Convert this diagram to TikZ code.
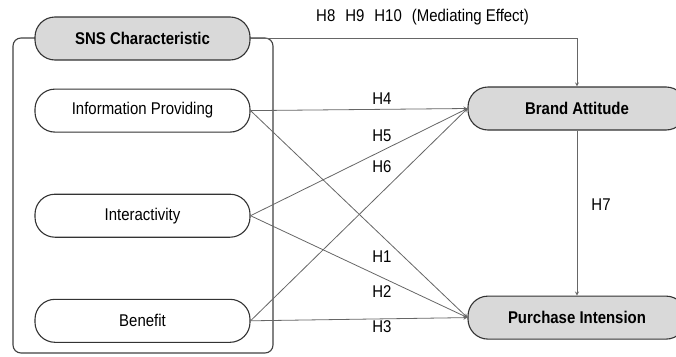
\documentclass[tikz,border=0pt]{standalone}
\usepackage{fontspec}
\setmainfont[FakeStretch=0.88]{Liberation Sans}
\usepackage{tikz}
\usetikzlibrary{positioning}
\newcommand{\diagfont}{\fontsize{17}{20}\selectfont}
\tikzstyle{factor} = [rectangle, rounded corners=20pt, minimum width=215pt, minimum height=43pt, text centered, draw=black!80, line width=1.1pt, fill=white]
\tikzstyle{latent} = [factor, fill=black!15, font=\diagfont\bfseries]
\tikzstyle{outcome} = [latent, minimum width=218pt]
\tikzstyle{frame} = [draw=black!75, line width=1.1pt, rounded corners=8pt]
\tikzstyle{hyp} = [inner sep=0pt]
\tikzstyle{arrow} = [draw=black!60, line width=0.8pt, ->, >=stealth]

\begin{document}
\begin{tikzpicture}[x=1pt, y=-1pt, font=\diagfont]
        \useasboundingbox (0,0) rectangle (676,356);
        \draw[frame] (13,38) rectangle (273,353);

        \node[latent]                          (sns)      at (142.5,38.5) {SNS Characteristic};
        \node[factor, below=28pt of sns]       (info)                     {Information Providing};
        \node[factor, below=61pt of info]      (inter)                    {Interactivity};
        \node[factor, below=61pt of inter]     (benefit)                  {Benefit};
        \node[outcome]                         (brand)    at (577,108.5)  {Brand Attitude};
        \node[outcome, below=165pt of brand]   (purchase)                 {Purchase Intension};

        \node[hyp, anchor=west] (mediating) at (316,17) {H8\hspace{10pt}H9\hspace{10pt}H10\hspace{10pt}(Mediating Effect)};
        \node[hyp] (h4) at (382,99)  {H4};
        \node[hyp] (h5) at (382,136) {H5};
        \node[hyp] (h6) at (382,167) {H6};
        \node[hyp] (h1) at (382,257) {H1};
        \node[hyp] (h2) at (382,292) {H2};
        \node[hyp] (h3) at (382,327) {H3};
        \node[hyp] (h7) at (601,205) {H7};

        \draw[arrow] (sns.east)     -| (brand.north);
        \draw[arrow] (brand.south)  -- (purchase.north);
        \draw[arrow] (info.east)    -- (brand.west);
        \draw[arrow] (info.east)    -- (purchase.west);
        \draw[arrow] (inter.east)   -- (brand.west);
        \draw[arrow] (inter.east)   -- (purchase.west);
        \draw[arrow] (benefit.east) -- (brand.west);
        \draw[arrow] (benefit.east) -- (purchase.west);
    \end{tikzpicture}
\end{document}
